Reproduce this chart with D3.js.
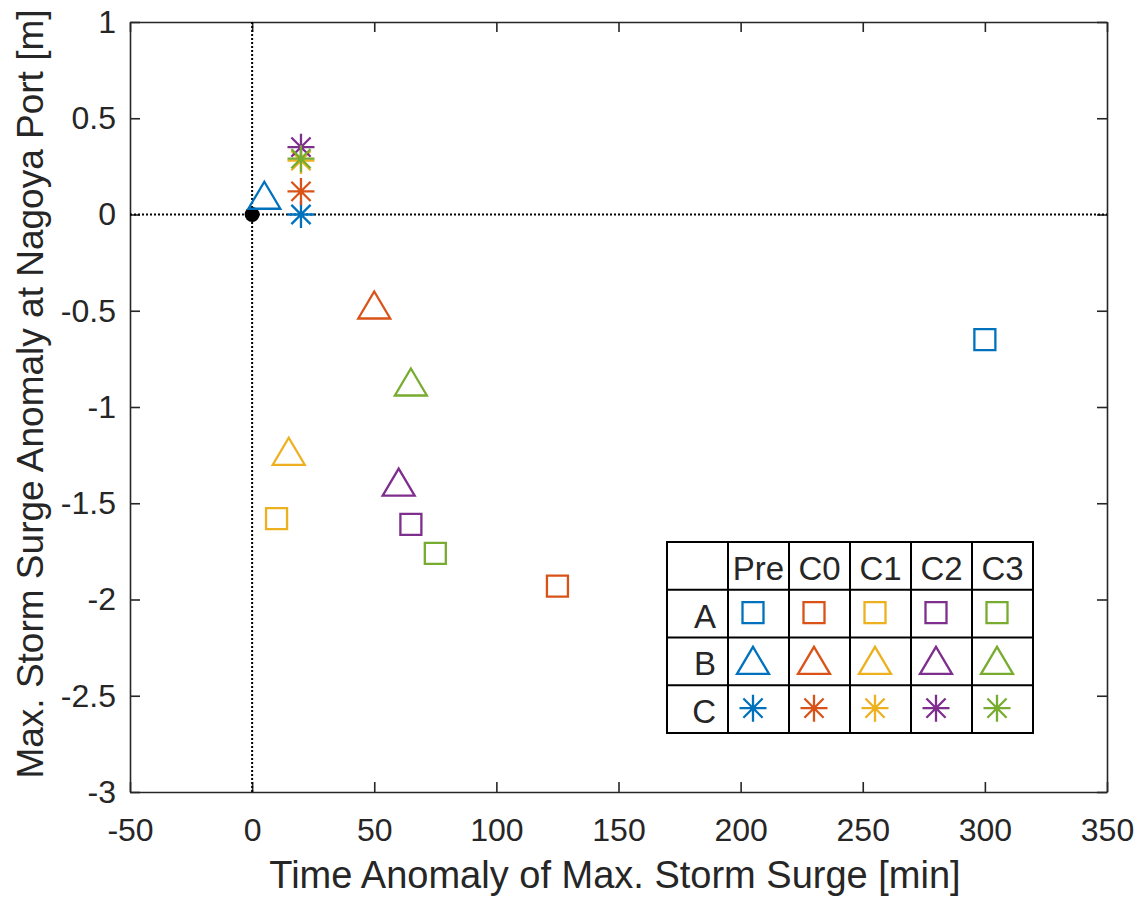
<!DOCTYPE html>
<html>
<head>
<meta charset="utf-8">
<title>Storm surge anomaly</title>
<script src="https://cdn.jsdelivr.net/npm/d3@7"></script>
<style>
  body { margin:0; background:#fff; }
  text { font-family: "Liberation Sans", Arial, Helvetica, sans-serif; fill:#262626; }
</style>
</head>
<body>
<svg id="chart" width="1146" height="900"></svg>
<script>
// data
const cases=["Pre","C0","C1","C2","C3"]
const groups=["A","B","C"]
const colors=["#0072BD","#D95319","#EDB120","#7E2F8E","#77AC30"]
const xA=[300,125,10,65,75],    yA=[-0.65,-1.93,-1.58,-1.61,-1.76]
const xB=[5,50,15,60,65],       yB=[0.1,-0.47,-1.23,-1.39,-0.87]
const xC=[20,20,20,20,20],      yC=[0,0.12,0.28,0.35,0.29]
const xTicks=[-50,0,50,100,150,200,250,300,350]
const yTicks=[-3,-2.5,-2,-1.5,-1,-0.5,0,0.5,1]

const svg=d3.select("#chart")
const x=d3.scaleLinear([-50,350],[130,1107])
const y=d3.scaleLinear([-3,1],[792,22])
const axcol="#262626"

// marker shapes, centred on 0,0
const shape={
  A: "M-10.5,-10.5H10.5V10.5H-10.5Z",
  B: "M0,-13.5L16,13.5L-16,13.5Z",
  C: (function(){ const r=13.5, d=9.6
       return `M${-r},0H${r}M0,${-r}V${r}M${-d},${-d}L${d},${d}M${-d},${d}L${d},${-d}` })()
}

// axes, box style with inward ticks
const styleAx=function(g){
  g.selectAll(".domain").attr("stroke",axcol).attr("stroke-width",1.6)
  g.selectAll(".tick line").attr("stroke",axcol).attr("stroke-width",1.6)
  g.selectAll("text").attr("font-size",32).attr("fill",axcol)
}
svg.append("g").attr("transform","translate(0,792)")
  .call(d3.axisBottom(x).tickValues(xTicks).tickFormat(d=>String(d)).tickSizeInner(-10).tickSizeOuter(0).tickPadding(26))
  .call(styleAx)
svg.append("g").attr("transform","translate(0,22)")
  .call(d3.axisTop(x).tickValues(xTicks).tickFormat("").tickSizeInner(-10).tickSizeOuter(0))
  .call(styleAx)
svg.append("g").attr("transform","translate(130,0)")
  .call(d3.axisLeft(y).tickValues(yTicks).tickFormat(d=>String(d)).tickSizeInner(-10).tickSizeOuter(0).tickPadding(14))
  .call(styleAx)
svg.append("g").attr("transform","translate(1107,0)")
  .call(d3.axisRight(y).tickValues(yTicks).tickFormat("").tickSizeInner(-10).tickSizeOuter(0))
  .call(styleAx)

// axis labels
svg.append("text").attr("x",615).attr("y",888).attr("text-anchor","middle")
  .attr("font-size",38).text("Time Anomaly of Max. Storm Surge [min]")
svg.append("text").attr("transform","translate(43,394) rotate(-90)").attr("text-anchor","middle")
  .attr("font-size",37).text("Max. Storm Surge Anomaly at Nagoya Port [m]")

// zero reference lines
svg.append("line").attr("x1",x(0)).attr("x2",x(0)).attr("y1",y(1)).attr("y2",y(-3))
  .attr("stroke","#000").attr("stroke-width",2).attr("stroke-dasharray","2,2")
svg.append("line").attr("x1",x(-50)).attr("x2",x(350)).attr("y1",y(0)).attr("y2",y(0))
  .attr("stroke","#000").attr("stroke-width",2).attr("stroke-dasharray","2,2")
svg.append("circle").attr("cx",x(0)).attr("cy",y(0)).attr("r",7.5).attr("fill","#000")

// scatter points
const series=[["A",xA,yA],["B",xB,yB],["C",xC,yC]]
series.forEach(([g,xs,ys])=>{
  svg.append("g").selectAll("path").data(cases).join("path")
    .attr("d",shape[g])
    .attr("transform",(d,i)=>`translate(${x(xs[i])},${y(ys[i])})`)
    .attr("fill","none").attr("stroke",(d,i)=>colors[i]).attr("stroke-width",2.3)
})

// legend table
const col=d3.scaleBand().domain(d3.range(cases.length+1)).range([667,1033])
const row=d3.scaleBand().domain(["hdr",...groups]).range([542,733])
const leg=svg.append("g")
leg.append("rect").attr("x",667).attr("y",542).attr("width",366).attr("height",191)
  .attr("fill","#fff").attr("stroke","#000").attr("stroke-width",2)
leg.selectAll("line.v").data(d3.range(1,cases.length+1)).join("line").attr("class","v")
  .attr("x1",d=>col(d)).attr("x2",d=>col(d)).attr("y1",542).attr("y2",733)
  .attr("stroke","#000").attr("stroke-width",2)
leg.selectAll("line.h").data(groups).join("line").attr("class","h")
  .attr("x1",667).attr("x2",1033).attr("y1",d=>row(d)).attr("y2",d=>row(d))
  .attr("stroke","#000").attr("stroke-width",2)
leg.selectAll("text.hd").data(cases).join("text").attr("class","hd")
  .attr("x",(d,i)=>col(i+1)+col.bandwidth()/2).attr("y",row("hdr")+row.bandwidth()/2+14)
  .attr("text-anchor","middle").attr("font-size",33).attr("fill","#000").text(d=>d)
leg.selectAll("text.rw").data(groups).join("text").attr("class","rw")
  .attr("x",col(1)-12).attr("y",d=>row(d)+row.bandwidth()/2+14)
  .attr("text-anchor","end").attr("font-size",33).attr("fill","#000").text(d=>d)
groups.forEach(g=>{
  leg.append("g").selectAll("path").data(cases).join("path")
    .attr("d",shape[g])
    .attr("transform",(d,i)=>`translate(${col(i+1)+col.bandwidth()/2-5.5},${row(g)+row.bandwidth()/2-1})`)
    .attr("fill","none").attr("stroke",(d,i)=>colors[i]).attr("stroke-width",2.3)
})
</script>
</body>
</html>
